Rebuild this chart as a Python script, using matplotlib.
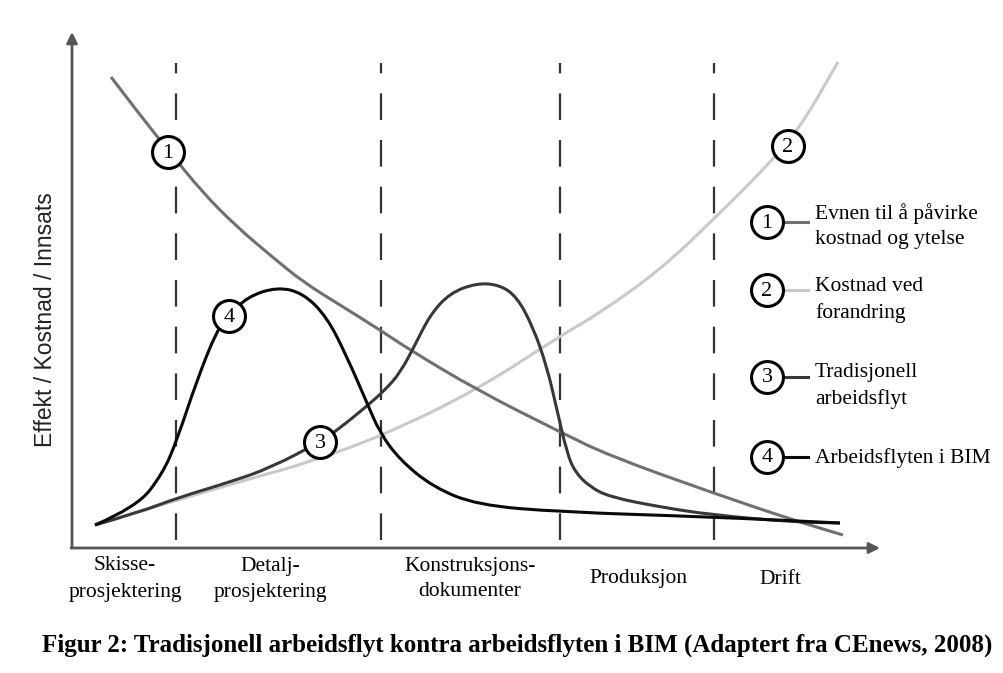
import matplotlib
matplotlib.use("Agg")
import matplotlib.pyplot as plt
from matplotlib.path import Path
from matplotlib.patches import PathPatch
import numpy as np

# ---------------- data (arbitrary units) ----------------
c1_x = [39, 68, 96, 131, 165, 198, 231, 268, 308, 338, 405, 488, 538, 641, 721, 771]
c1_y = [471, 433, 398, 355, 321, 293, 266, 243, 218, 198, 158, 116, 92, 55, 28, 13]

c2_x = [23, 105, 198, 228, 308, 405, 488, 528, 588, 641, 701, 731, 766]
c2_y = [23, 48, 75, 83, 111, 158, 212, 235, 278, 328, 388, 425, 486]

c3_x = [23, 68, 105, 158, 198, 248, 268, 295, 313, 328, 343, 358, 378, 405, 428,
        445, 461, 475, 485, 495, 503, 518, 538, 588, 641, 721, 768]
c3_y = [23, 36, 50, 66, 80, 106, 120, 142, 158, 175, 203, 233, 255, 265, 263,
        251, 221, 181, 138, 95, 76, 61, 51, 41, 33, 26, 25]

c4_x = [23, 65, 91, 105, 125, 145, 157, 175, 205, 231, 255, 275, 295, 308, 328,
        361, 405, 488, 641, 768]
c4_y = [23, 41, 75, 108, 168, 218, 232, 251, 261, 255, 231, 191, 145, 115, 88,
        61, 43, 36, 31, 25]

phase_bounds = [104, 309, 488, 642]
phase_labels = ["Skisse-\nprosjektering", "Detalj-\nprosjektering",
                "Konstruksjons-\ndokumenter", "Produksjon", "Drift"]
phase_label_x = [53, 198, 398, 566, 708]

marker_ids = ["1", "2", "3", "4"]
marker_x = [96, 716, 248, 157]
marker_y = [396, 402, 106, 232]

legend_texts = ["Evnen til å påvirke\nkostnad og ytelse", "Kostnad ved\nforandring",
                "Tradisjonell\narbeidsflyt", "Arbeidsflyten i BIM"]
legend_circle_y = [326, 258, 171, 91]
legend_text_y = [322, 248, 162, 90]

ylabel = "Effekt / Kostnad / Innsats"
caption = "Figur 2: Tradisjonell arbeidsflyt kontra arbeidsflyten i BIM (Adaptert fra CEnews, 2008)"

colors = ["#707070", "#c9c9c9", "#383838", "#0a0a0a"]

# ---------------- figure ----------------
W, H = 1004, 673
fig = plt.figure(figsize=(W / 100, H / 100), dpi=100)
fig.patch.set_facecolor("white")
ax = fig.add_axes([72 / W, (H - 548) / H, 803 / W, 510 / H])
ax.set_xlim(0, 803)
ax.set_ylim(0, 510)
ax.axis("off")

SERIF = ["Liberation Serif", "DejaVu Serif"]


def smooth_curve(xs, ys, color, lw, z):
    pts = np.column_stack([xs, ys]).astype(float)
    verts = [tuple(pts[0])]
    codes = [Path.MOVETO]
    for i in range(1, len(pts) - 1):
        mid = (pts[i] + pts[i + 1]) / 2.0
        verts += [tuple(pts[i]), tuple(mid)]
        codes += [Path.CURVE3, Path.CURVE3]
    verts.append(tuple(pts[-1]))
    codes.append(Path.LINETO)
    patch = PathPatch(Path(verts, codes), facecolor="none", edgecolor=color,
                      lw=lw, zorder=z, capstyle="butt", joinstyle="round")
    ax.add_patch(patch)


# dashed phase boundaries
for xb in phase_bounds:
    ax.plot([xb, xb], [8, 485], color="#333333", lw=1.6, dashes=(12, 9), zorder=1)

# curves
smooth_curve(c2_x, c2_y, colors[1], 2.2, 2)
smooth_curve(c1_x, c1_y, colors[0], 2.2, 3)
smooth_curve(c3_x, c3_y, colors[2], 2.2, 4)
smooth_curve(c4_x, c4_y, colors[3], 2.2, 5)

# numbered circles on curves
for lab, mx, my in zip(marker_ids, marker_x, marker_y):
    ax.plot([mx], [my], marker="o", ms=23, mfc="white", mec="black", mew=2.2,
            zorder=10, clip_on=False)
    ax.text(mx, my - 1, lab, ha="center", va="center", fontsize=16, family=SERIF,
            zorder=11, clip_on=False)

# axes with arrows
ax.annotate("", xy=(0, 516), xytext=(0, 0),
            arrowprops=dict(arrowstyle="-|>", color="#555555", lw=2,
                            mutation_scale=16, shrinkA=0, shrinkB=0),
            annotation_clip=False)
ax.annotate("", xy=(808, 0), xytext=(-1, 0),
            arrowprops=dict(arrowstyle="-|>", color="#555555", lw=2,
                            mutation_scale=16, shrinkA=0, shrinkB=0),
            annotation_clip=False)

# phase labels
for lab, lx in zip(phase_labels, phase_label_x):
    ax.text(lx, -31, lab, ha="center", va="center", fontsize=15.5, family=SERIF,
            linespacing=1.5, clip_on=False)

# y label
ax.text(-26, 228, ylabel, rotation=90, ha="center", va="center", fontsize=16.5,
        family=["Liberation Sans", "DejaVu Sans"],
        color="#222222", clip_on=False)

# legend
for i, (txt, cy, ty) in enumerate(zip(legend_texts, legend_circle_y, legend_text_y)):
    ax.plot([713, 736], [cy, cy], color=colors[i], lw=2.2, zorder=9, clip_on=False)
    ax.plot([695], [cy], marker="o", ms=23, mfc="white", mec="black", mew=2.2,
            zorder=10, clip_on=False)
    ax.text(695, cy - 1, marker_ids[i], ha="center", va="center", fontsize=16,
            family=SERIF, zorder=11, clip_on=False)
    ax.text(743, ty, txt, ha="left", va="center", fontsize=15.5, family=SERIF,
            linespacing=1.42, clip_on=False)

# caption
fig.text(517 / W, 1 - 645 / H, caption, ha="center", va="center", fontsize=18,
         family=SERIF, fontweight="bold")

fig.savefig("out.png", dpi=100, facecolor="white")
